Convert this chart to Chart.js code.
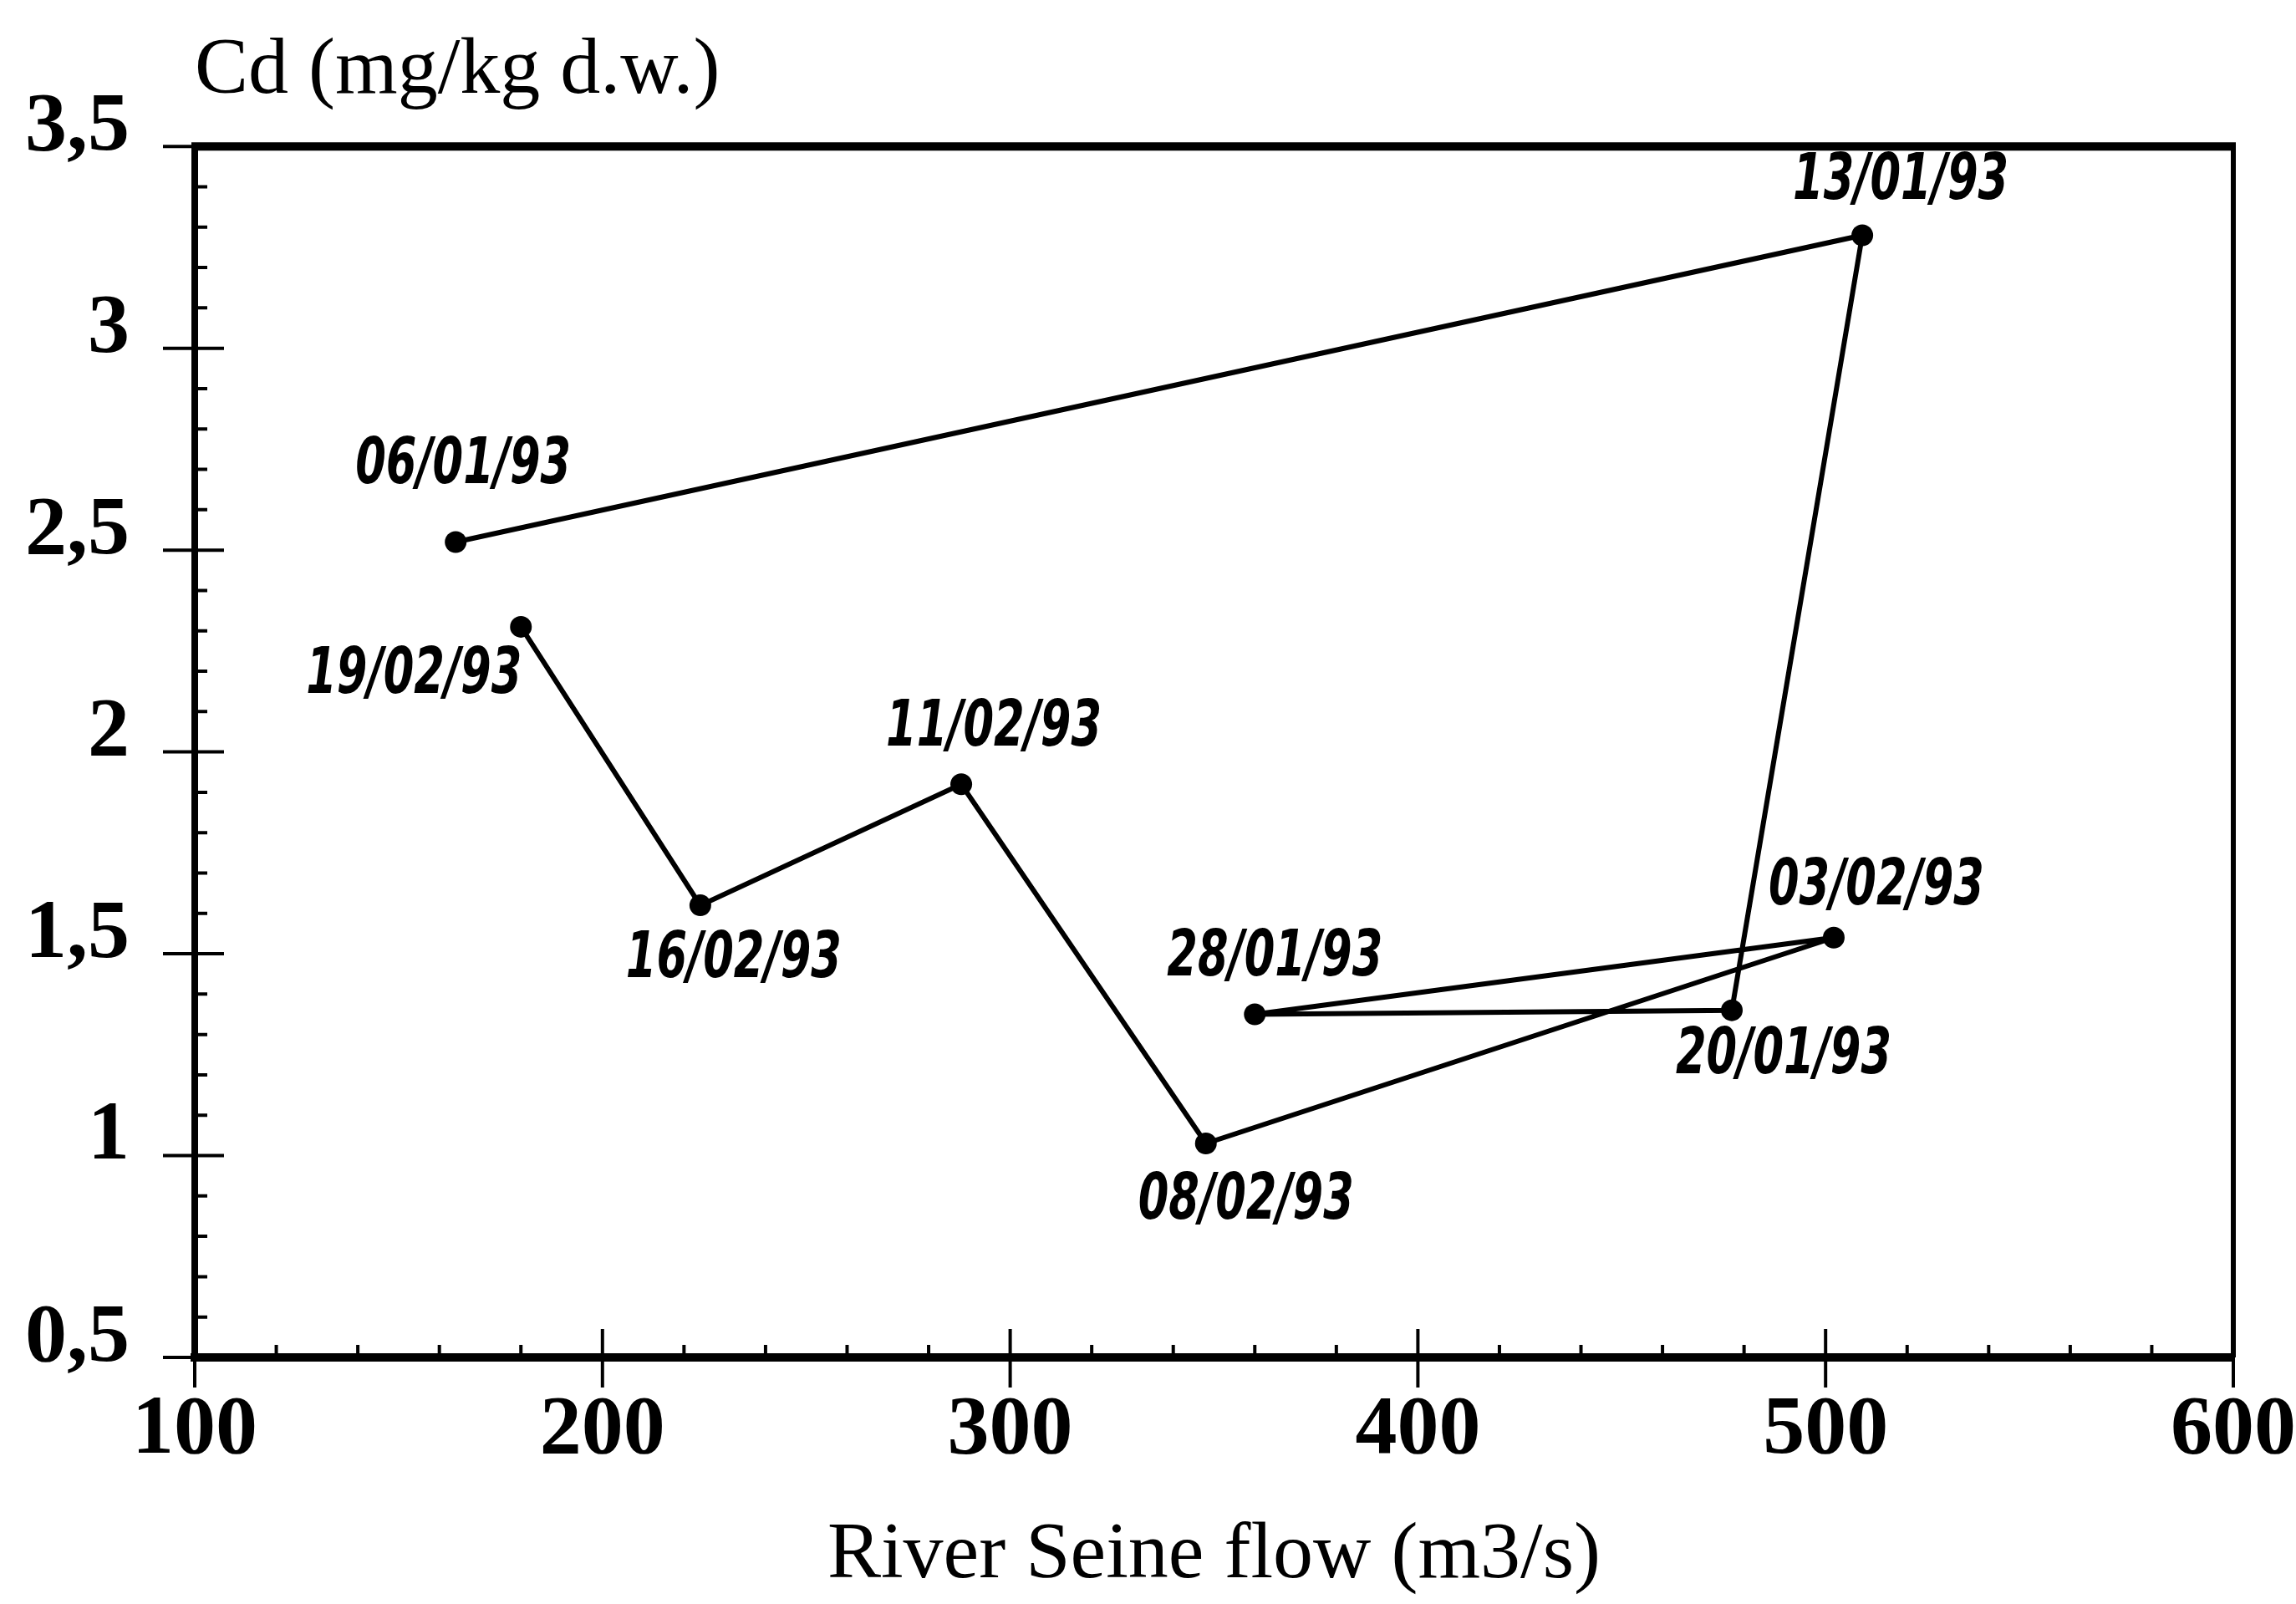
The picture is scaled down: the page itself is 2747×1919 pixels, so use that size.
<!DOCTYPE html>
<html>
<head>
<meta charset="utf-8">
<script src="https://cdn.jsdelivr.net/npm/chart.js@4"></script>
<style>
  html, body { margin: 0; padding: 0; background: #fff; }
  #wrap { width: 2747px; height: 1919px; }
</style>
</head>
<body>
<div id="wrap"><canvas id="grafico"></canvas></div>
<script>
// sampling dates (in the order the line joins them)
const fechas = ["06/01/93", "13/01/93", "20/01/93", "28/01/93", "03/02/93",
  "08/02/93", "11/02/93", "16/02/93", "19/02/93"];
// River Seine flow (m3/s)
const caudal = [164, 509, 477, 360, 502, 348, 288, 224, 180];
// Cd (mg/kg d.w.)
const cadmio = [2.52, 3.28, 1.36, 1.35, 1.54, 1.03, 1.92, 1.62, 2.31];
// axis ticks
const ticksX = [100, 200, 300, 400, 500, 600];
const ticksY = [0.5, 1, 1.5, 2, 2.5, 3, 3.5];
const etiquetasY = ["0,5", "1", "1,5", "2", "2,5", "3", "3,5"];

// where each date label sits relative to its point (px)
const posEtiqueta = [[9, -90], [46, -63], [62, 56], [24, -66], [51, -59],
  [48, 70], [39, -66], [40, 66], [-128, 59]];

const serif = '"Liberation Serif", "Times New Roman", serif';
const negro = "#000";

const puntos = caudal.map((x, i) => ({ x: x, y: cadmio[i] }));

// box lines and tick marks (major ones cross the axis, minor ones inside)
const marco = {
  id: "marco",
  afterDraw(chart) {
    const ctx = chart.ctx;
    const a = chart.chartArea;
    const sx = chart.scales.x;
    const sy = chart.scales.y;
    ctx.save();
    ctx.strokeStyle = negro;
    ctx.lineCap = "butt";

    ctx.lineWidth = 10;
    ctx.beginPath();
    ctx.moveTo(a.left - 4, a.top);
    ctx.lineTo(a.right + 3, a.top);
    ctx.stroke();
    ctx.lineWidth = 6;
    ctx.beginPath();
    ctx.moveTo(a.right, a.top);
    ctx.lineTo(a.right, a.bottom);
    ctx.stroke();

    ctx.lineWidth = 4;
    ctx.beginPath();
    for (let v = ticksX[0]; v <= ticksX[ticksX.length - 1]; v += 20) {
      const px = sx.getPixelForValue(v);
      if (ticksX.includes(v)) {
        ctx.moveTo(px, a.bottom - 34);
        ctx.lineTo(px, a.bottom + 36);
      } else {
        ctx.moveTo(px, a.bottom - 15);
        ctx.lineTo(px, a.bottom);
      }
    }
    for (let k = 5; k <= 35; k++) {
      const v = k / 10;
      const py = sy.getPixelForValue(v);
      if (k % 5 === 0) {
        ctx.moveTo(a.left - 38, py);
        ctx.lineTo(a.left + 35, py);
      } else {
        ctx.moveTo(a.left, py);
        ctx.lineTo(a.left + 15, py);
      }
    }
    ctx.stroke();
    ctx.restore();
  },
};

// date next to each sample point, squeezed to the narrow face of the original
const etiquetas = {
  id: "etiquetas",
  afterDatasetsDraw(chart) {
    const ctx = chart.ctx;
    const meta = chart.getDatasetMeta(0);
    ctx.save();
    ctx.fillStyle = negro;
    ctx.font = 'italic bold 76px "Liberation Sans Narrow", "Arial Narrow", "DejaVu Sans Condensed", sans-serif';
    ctx.textAlign = "center";
    ctx.textBaseline = "middle";
    const ancho = ctx.measureText("00/00/00").width;
    const esc = Math.min(1, 258 / ancho);
    meta.data.forEach((el, i) => {
      const [dx, dy] = posEtiqueta[i];
      ctx.save();
      ctx.translate(el.x + dx, el.y + dy);
      ctx.scale(esc, 1);
      ctx.fillText(fechas[i], 0, 0);
      ctx.restore();
    });
    ctx.restore();
  },
};

const config = {
  type: "scatter",
  data: {
    datasets: [
      {
        label: "Cd",
        data: puntos,
        showLine: true,
        borderColor: negro,
        borderWidth: 6,
        pointRadius: 13,
        pointBackgroundColor: negro,
        pointBorderWidth: 0,
        tension: 0,
      },
    ],
  },
  options: {
    responsive: true,
    maintainAspectRatio: false,
    animation: false,
    layout: { padding: { top: 28, right: 75, bottom: 0, left: 0 } },
    plugins: {
      legend: { display: false },
      tooltip: { enabled: false },
      title: {
        display: true,
        text: "Cd (mg/kg d.w.)",
        align: "start",
        fullSize: false,
        color: negro,
        font: { family: serif, size: 96, weight: "normal", lineHeight: 1.2 },
        padding: { top: 0, bottom: 32 },
      },
    },
    scales: {
      x: {
        type: "linear",
        min: ticksX[0],
        max: ticksX[ticksX.length - 1],
        afterBuildTicks: (s) => { s.ticks = ticksX.map((v) => ({ value: v })); },
        afterFit: (s) => { s.height = 295; s.paddingLeft = 0; s.paddingRight = 0; },
        grid: { display: false, drawTicks: false },
        border: { display: true, color: negro, width: 10 },
        ticks: {
          color: negro,
          padding: 28,
          maxRotation: 0,
          font: { family: serif, size: 100, weight: "bold", lineHeight: 1.2 },
        },
        title: {
          display: true,
          text: "River Seine flow (m3/s)",
          color: negro,
          font: { family: serif, size: 96, weight: "normal", lineHeight: 1.2 },
          padding: { top: 0, bottom: 0 },
        },
      },
      y: {
        type: "linear",
        min: ticksY[0],
        max: ticksY[ticksY.length - 1],
        afterBuildTicks: (s) => { s.ticks = ticksY.map((v) => ({ value: v })); },
        afterFit: (s) => { s.width = 233; s.paddingTop = 0; s.paddingBottom = 0; },
        grid: { display: false, drawTicks: false },
        border: { display: true, color: negro, width: 8 },
        ticks: {
          color: negro,
          padding: 78,
          labelOffset: -22,
          font: { family: serif, size: 100, weight: "bold", lineHeight: 1.2 },
          callback: (v) => {
            const i = ticksY.indexOf(v);
            return i >= 0 ? etiquetasY[i] : "";
          },
        },
      },
    },
  },
  plugins: [marco, etiquetas],
};

new Chart(document.getElementById("grafico"), config);
</script>
</body>
</html>
